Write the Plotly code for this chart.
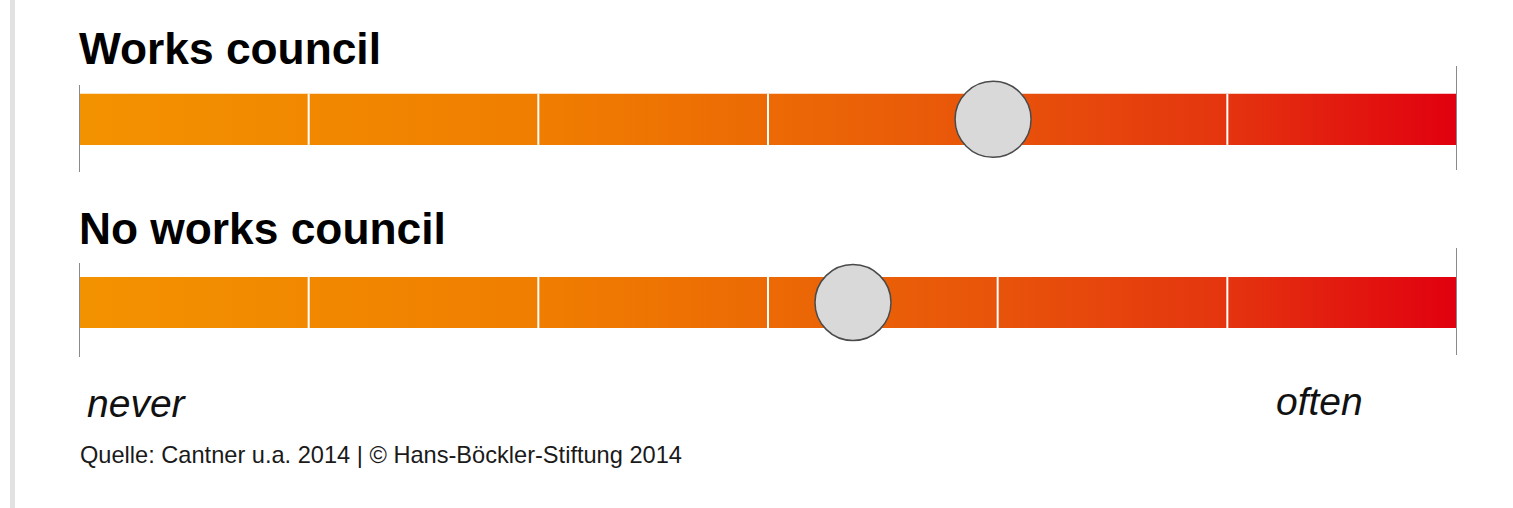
import plotly.graph_objects as go

# ---- data ----
categories = ["Works council", "No works council"]
values = [3.98, 3.37]            # position on the never(0) .. often(6) scale
scale_min, scale_max = 0, 6
dividers = [1, 2, 3, 4, 5]
end_labels = ["never", "often"]
source = "Quelle: Cantner u.a. 2014 | \u00a9 Hans-B\u00f6ckler-Stiftung 2014"

# ---- layout helpers (pixel-like y axis) ----
row_center = [119.3, 302.5]
bar_half = 25.6
title_y = [48, 228]
tick_top = [[85, 66], [263, 248]]
tick_bottom = [[172, 170], [357, 355]]

colorscale = [
    [0.0, "#F39200"], [0.33, "#F07E00"], [0.5, "#EC6A05"],
    [0.67, "#E8530A"], [0.83, "#E4350F"], [1.0, "#E1000F"],
]

fig = go.Figure()
shapes = []
annotations = []
for i, cat in enumerate(categories):
    yc = row_center[i]
    top, bot = yc - bar_half, yc + bar_half
    fig.add_trace(go.Scatter(
        x=[scale_min, scale_max, scale_max, scale_min, scale_min],
        y=[top, top, bot, bot, top],
        mode="lines", line=dict(width=0), fill="toself",
        fillgradient=dict(type="horizontal", colorscale=colorscale),
        hoverinfo="skip", showlegend=False))
    dx, dy = [], []
    for d in dividers:
        dx += [d, d, None]
        dy += [top, bot, None]
    fig.add_trace(go.Scatter(x=dx, y=dy, mode="lines",
                             line=dict(color="white", width=2),
                             hoverinfo="skip", showlegend=False))
    for j, xv in enumerate([scale_min, scale_max]):
        shapes.append(dict(type="line", xref="x", yref="y", x0=xv, x1=xv,
                           y0=tick_top[i][j], y1=tick_bottom[i][j],
                           line=dict(color="#8a8a8a", width=2)))
    annotations.append(dict(text=f"<b>{cat}</b>", x=scale_min, y=title_y[i],
                            xref="x", yref="y", xanchor="left", yanchor="middle",
                            xshift=-2, showarrow=False,
                            font=dict(family="Liberation Sans, Arial", size=44.3, color="#000")))

fig.add_trace(go.Scatter(
    x=values, y=row_center, mode="markers",
    marker=dict(size=76, color="#D9D9D9", line=dict(color="#4a4a4a", width=1.5)),
    hoverinfo="skip", showlegend=False))

annotations.append(dict(text=f"<i>{end_labels[0]}</i>", x=scale_min, y=403, xref="x", yref="y",
                        xanchor="left", yanchor="middle", xshift=6, showarrow=False,
                        font=dict(family="Liberation Sans, Arial", size=39, color="#111")))
annotations.append(dict(text=f"<i>{end_labels[1]}</i>", x=scale_max, y=401, xref="x", yref="y",
                        xanchor="right", yanchor="middle", xshift=-92, showarrow=False,
                        font=dict(family="Liberation Sans, Arial", size=39, color="#111")))
annotations.append(dict(text=source, x=scale_min, y=455, xref="x", yref="y",
                        xanchor="left", yanchor="middle", xshift=-1, showarrow=False,
                        font=dict(family="Liberation Sans, Arial", size=23.6, color="#1a1a1a")))

# left light-grey border stripe
shapes.append(dict(type="rect", xref="paper", yref="paper",
                   x0=(10 - 79) / 1378, x1=(15 - 79) / 1378, y0=0, y1=1,
                   fillcolor="#E2E2E2", line=dict(width=0), layer="below"))

fig.update_layout(
    width=1513, height=508,
    margin=dict(l=79, r=56, t=0, b=0),
    paper_bgcolor="white", plot_bgcolor="white",
    xaxis=dict(range=[scale_min, scale_max], visible=False, fixedrange=True),
    yaxis=dict(range=[508, 0], visible=False, fixedrange=True),
    shapes=shapes, annotations=annotations,
    showlegend=False,
)
fig.write_html("out.html")
